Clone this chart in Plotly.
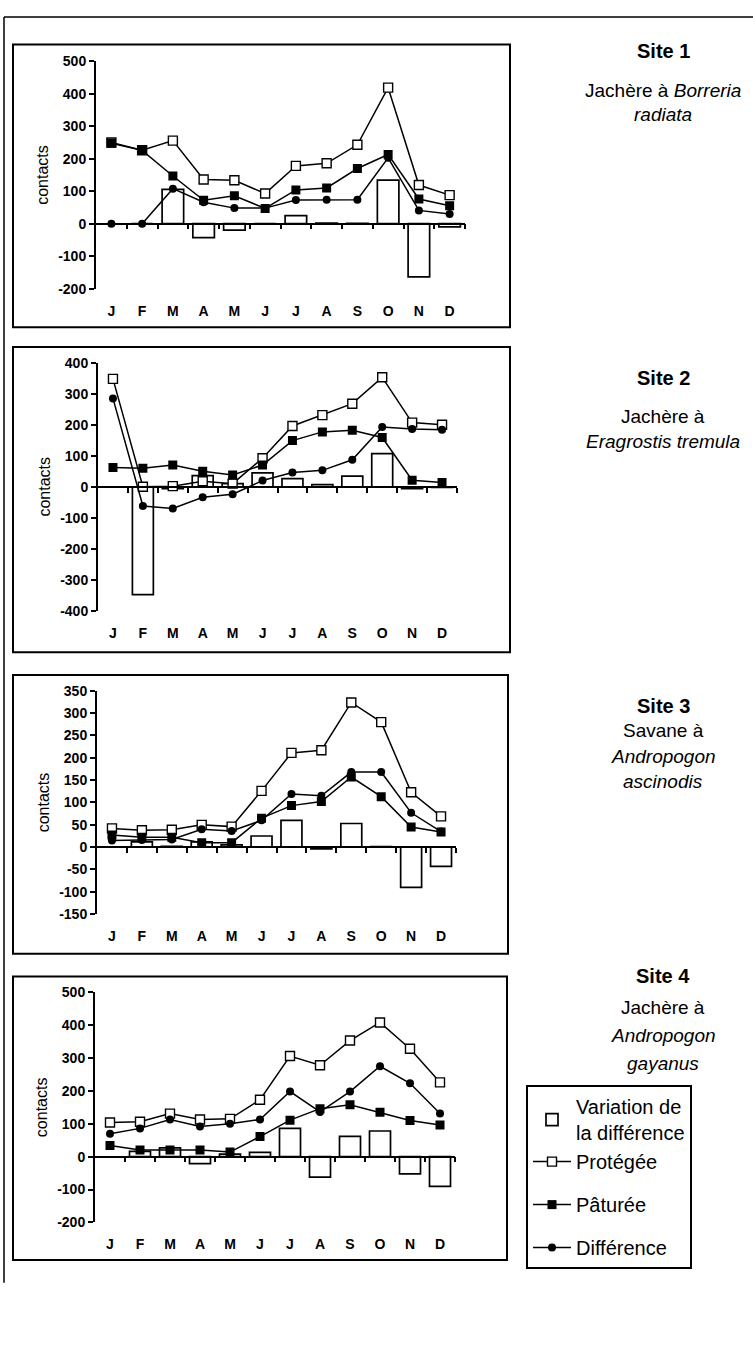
import plotly.graph_objects as go

# ---------------- data ----------------
months = ["J", "F", "M", "A", "M", "J", "J", "A", "S", "O", "N", "D"]

s1_protegee = [250, 226, 256, 136, 134, 93, 178, 186, 243, 419, 119, 88]
s1_paturee = [248, 226, 147, 72, 86, 47, 104, 110, 170, 213, 76, 55]
s1_difference = [0, 0, 108, 66, 48, 48, 73, 74, 74, 203, 41, 30]
s1_variation = [None, 0, 106, -43, -20, 0, 25, 2, 1, 134, -164, -10]

s2_protegee = [348, 0, 2, 18, 10, 92, 196, 231, 268, 353, 207, 200]
s2_paturee = [62, 60, 70, 50, 38, 70, 149, 177, 182, 159, 21, 14]
s2_difference = [285, -62, -70, -34, -24, 20, 46, 53, 87, 193, 186, 184]
s2_variation = [None, -348, -6, 36, 10, 45, 26, 7, 34, 107, -6, -2]

s3_protegee = [42, 38, 39, 50, 46, 126, 211, 217, 324, 280, 123, 69]
s3_paturee = [27, 22, 22, 10, 10, 65, 93, 102, 157, 113, 45, 34]
s3_difference = [15, 16, 17, 40, 36, 60, 119, 115, 168, 168, 77, 35]
s3_variation = [None, 12, 2, 12, 5, 25, 60, -4, 53, 1, -90, -43]

s4_protegee = [104, 106, 131, 113, 115, 173, 306, 278, 353, 408, 328, 226]
s4_paturee = [34, 20, 20, 20, 14, 61, 111, 146, 158, 135, 110, 96]
s4_difference = [70, 86, 113, 92, 100, 113, 198, 136, 198, 275, 223, 131]
s4_variation = [None, 16, 27, -21, 8, 13, 86, -62, 62, 78, -52, -90]

site_names = ["Site 1", "Site 2", "Site 3", "Site 4"]
site_desc = [
    ["Jachère à <i>Borreria</i>", "<i>radiata</i>"],
    ["Jachère à", "<i>Eragrostis tremula</i>"],
    ["Savane à", "<i>Andropogon</i>", "<i>ascinodis</i>"],
    ["Jachère à", "<i>Andropogon</i>", "<i>gayanus</i>"],
]

legend_names = ["Variation de<br>la différence", "Protégée", "Pâturée", "Différence"]

# ---------------- layout geometry (pixels) ----------------
W, H = 753, 1353
FONT = "Liberation Sans, Arial, sans-serif"

panels = [
    dict(data=(s1_variation, s1_protegee, s1_paturee, s1_difference),
         plot_x=(96, 465), plot_y=(54, 284), yr=(-200, 500), dtick=100,
         box=(13, 37, 510, 323), title_y=44, desc_y=[83, 108]),
    dict(data=(s2_variation, s2_protegee, s2_paturee, s2_difference),
         plot_x=(98, 457), plot_y=(359, 610), yr=(-400, 400), dtick=100,
         box=(13, 343, 510, 652), title_y=374, desc_y=[413, 439]),
    dict(data=(s3_variation, s3_protegee, s3_paturee, s3_difference),
         plot_x=(97, 456), plot_y=(691, 917), yr=(-150, 350), dtick=50,
         box=(13, 675, 508, 957), title_y=706, desc_y=[731, 757, 783]),
    dict(data=(s4_variation, s4_protegee, s4_paturee, s4_difference),
         plot_x=(95, 455), plot_y=(996, 1229), yr=(-200, 500), dtick=100,
         box=(13, 980, 507, 1267), title_y=980, desc_y=[1011, 1040, 1068]),
]


def px(v):
    return v / W


def py(v):
    return 1 - v / H


fig = go.Figure()
x = list(range(len(months)))
layout = {}
shapes = []
annotations = []
groups = ["g0", "g0", "g2", "g3"]
line_style = dict(color="black", width=1.5)

for i, p in enumerate(panels):
    n = i + 1
    sfx = "" if n == 1 else str(n)
    xa, ya = "x" + sfx, "y" + sfx
    var, prot, pat, diff = p["data"]
    first = n == 1
    k = 4 + n
    ymin, ymax = p["yr"]

    fig.add_trace(go.Bar(
        x=x, y=var, xaxis=xa, yaxis=ya, width=0.7,
        marker=dict(color="white", line=dict(color="black", width=1.7)),
        name=legend_names[0], showlegend=first, legendgroup=groups[0]))
    fig.add_trace(go.Scatter(
        x=x, y=prot, xaxis=xa, yaxis=ya, mode="lines+markers", line=line_style,
        marker=dict(symbol="square", size=9, color="white",
                    line=dict(color="black", width=1.4)),
        name=legend_names[1], showlegend=first, legendgroup=groups[1]))
    fig.add_trace(go.Scatter(
        x=x, y=pat, xaxis=xa, yaxis=ya, mode="lines+markers", line=line_style,
        marker=dict(symbol="square", size=9, color="black"),
        name=legend_names[2], showlegend=first, legendgroup=groups[2]))
    fig.add_trace(go.Scatter(
        x=x, y=diff, xaxis=xa, yaxis=ya, mode="lines+markers", line=line_style,
        marker=dict(symbol="circle", size=8, color="black"),
        name=legend_names[3], showlegend=first, legendgroup=groups[3]))
    # empty trace so the overlaid zero-level axis (with boundary ticks) is drawn
    fig.add_trace(go.Scatter(x=[None], y=[None], xaxis="x" + str(k), yaxis=ya,
                             showlegend=False, hoverinfo="skip", mode="lines"))

    dx = [px(p["plot_x"][0]), px(p["plot_x"][1])]
    dy = [py(p["plot_y"][1]), py(p["plot_y"][0])]
    yticks = list(range(ymin, ymax + 1, p["dtick"]))

    layout["xaxis" + sfx] = dict(
        domain=dx, anchor=ya, range=[-0.5, len(months) - 0.5],
        tickmode="array", tickvals=x, ticktext=months,
        showline=False, ticks="", showgrid=False, zeroline=False,
        tickfont=dict(family=FONT, size=14, color="black", weight="bold"),
        ticklabelstandoff=12)
    layout["yaxis" + sfx] = dict(
        domain=dy, anchor=xa, range=[ymin, ymax],
        tickmode="array", tickvals=yticks, ticktext=[str(v) for v in yticks],
        showline=True, linecolor="black", linewidth=2,
        ticks="outside", ticklen=5, tickwidth=2, tickcolor="black",
        showgrid=False, zeroline=True, zerolinecolor="black", zerolinewidth=1.5,
        tickfont=dict(family=FONT, size=14, color="black", weight="bold"),
        title=dict(text="contacts", standoff=6,
                   font=dict(family=FONT, size=16, color="black")))
    zpos = dy[0] + (0 - ymin) / (ymax - ymin) * (dy[1] - dy[0])
    layout["xaxis" + str(k)] = dict(
        overlaying=xa, anchor="free", position=zpos,
        range=[-0.5, len(months) - 0.5],
        tickmode="array", tickvals=[j + 0.5 for j in x],
        showticklabels=False, ticks="outside", ticklen=5, tickwidth=1.5,
        tickcolor="black", showline=True, linecolor="black", linewidth=1.5,
        showgrid=False, zeroline=False, fixedrange=True)

    bx0, by0, bx1, by1 = p["box"]
    shapes.append(dict(type="rect", xref="paper", yref="paper",
                       x0=px(bx0), x1=px(bx1), y0=py(by1), y1=py(by0),
                       line=dict(color="black", width=2)))

    annotations.append(dict(
        text="<b>" + site_names[i] + "</b>", x=px(663), y=py(p["title_y"]),
        xref="paper", yref="paper", showarrow=False, xanchor="center",
        yanchor="middle", font=dict(family=FONT, size=20, color="black")))
    for t, yy in zip(site_desc[i], p["desc_y"]):
        annotations.append(dict(
            text=t, x=px(663), y=py(yy), xref="paper", yref="paper",
            showarrow=False, xanchor="center", yanchor="middle",
            font=dict(family=FONT, size=19, color="black")))

# page border lines
shapes.append(dict(type="line", xref="paper", yref="paper",
                   x0=px(4), x1=1, y0=py(9), y1=py(9),
                   line=dict(color="black", width=1.5)))
shapes.append(dict(type="line", xref="paper", yref="paper",
                   x0=px(4), x1=px(4), y0=py(9), y1=py(1290),
                   line=dict(color="black", width=1.5)))

fig.update_layout(
    width=W, height=H, autosize=False,
    margin=dict(l=0, r=0, t=0, b=0),
    paper_bgcolor="white", plot_bgcolor="white",
    font=dict(family=FONT, color="black"),
    shapes=shapes, annotations=annotations,
    legend=dict(x=px(526), y=py(1090), xanchor="left", yanchor="top",
                bordercolor="black", borderwidth=2, bgcolor="white",
                font=dict(family=FONT, size=20, color="black"),
                itemwidth=38, tracegroupgap=14, traceorder="grouped"),
    **layout)

fig.write_html("out.html", config={"displayModeBar": False},
               post_script="document.body.style.margin='0';"
                           "document.body.style.overflow='hidden';")
